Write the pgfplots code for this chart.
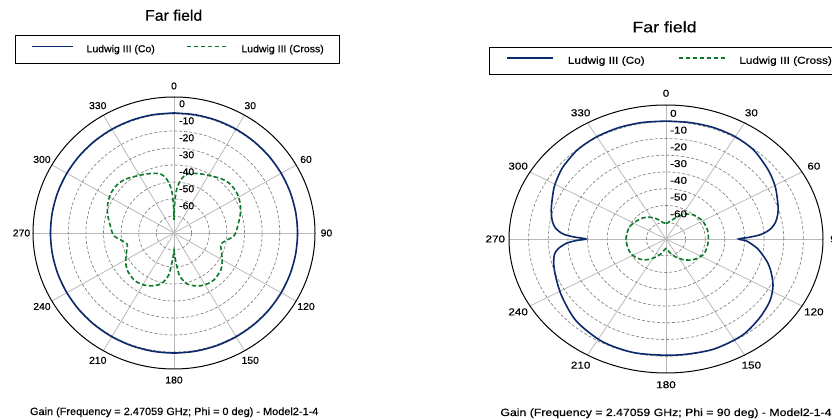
\documentclass[border=0pt]{standalone}
\usepackage{fontspec}
\setmainfont{Liberation Sans}
\newfontfamily\lf[FakeStretch=1.04,FakeBold=0.35]{Liberation Sans}
\newfontfamily\rf[FakeStretch=1.17,FakeBold=0.35]{Liberation Sans}
\usepackage{pgfplots}
\usepackage{pgfplotstable}
\pgfplotsset{compat=1.18}
\definecolor{co}{HTML}{0B2A6B}
\definecolor{cx}{HTML}{0A7A2A}
\definecolor{ringc}{gray}{0.5}
\definecolor{spokec}{gray}{0.72}

% Phi = 0 deg
\pgfplotstableread{
a g
0 -9.40
10 -9.42
20 -9.46
30 -9.53
40 -9.61
50 -9.69
60 -9.78
70 -9.84
80 -9.89
90 -9.90
100 -9.89
110 -9.84
120 -9.78
130 -9.69
140 -9.61
150 -9.53
160 -9.46
170 -9.42
180 -9.40
190 -9.42
200 -9.46
210 -9.53
220 -9.61
230 -9.69
240 -9.78
250 -9.84
260 -9.89
270 -9.90
280 -9.89
290 -9.84
300 -9.78
310 -9.69
320 -9.61
330 -9.53
340 -9.46
350 -9.42
360 -9.40
}\leftco

\pgfplotstableread{
a g
0 -72.4
1 -64
2.5 -57
4 -53
7.5 -48
12 -44.6
18 -43.1
25 -41.8
32 -40.4
40 -38.3
46 -37.2
52 -37
58 -37.4
65 -38.6
71 -40
77 -41.8
82 -43.3
88 -44.6
93 -46
97 -49
100 -51
104 -52.7
108 -52
113 -50.7
121 -48.1
129 -45.7
140 -44.3
147 -44.5
154 -45.5
160 -47
166 -49.1
170 -52
173.5 -55.7
176.7 -63.7
178.5 -67
180 -69.6
181.5 -67
183.3 -63.7
186.5 -55.7
190 -52
194 -49.1
200 -47
206 -45.5
213 -44.5
220 -44.3
231 -45.7
239 -48.1
247 -50.7
252 -52
256 -52.7
260 -51
263 -49
267 -46
272 -44.6
278 -43.3
283 -41.8
289 -40
295 -38.6
302 -37.4
308 -37
314 -37.2
320 -38.3
328 -40.4
335 -41.8
342 -43.1
348 -44.6
352.5 -48
356 -53
357.5 -57
359 -64
360 -72.4
}\leftcx

% Phi = 90 deg
\pgfplotstableread{
a g
0 -9.6
10 -9.4
20 -9.2
30 -9.5
40 -10.6
50 -13.2
56 -14.8
62 -16.6
71 -19.6
76 -21.4
80 -23.4
83 -25.8
85 -28.3
87 -32
88.6 -37.5
90 -43
91.5 -39
93.5 -36.8
97 -33
101 -29.8
105 -26.5
110 -23.1
117 -18.8
125 -15.4
135 -12.9
146 -10.6
159 -9.9
170 -10.4
180 -10.6
194 -10.2
208 -10.7
223 -13.0
237 -16.8
248 -19.4
256 -21
261 -22.5
264 -24.8
267 -29
268.8 -34
270 -39.2
271.5 -33
273 -28
275 -25
277 -23
280 -21.3
284 -19.8
289 -18.3
298 -15.3
304 -13.6
310 -12.0
320 -10.2
330 -9.5
340 -9.3
350 -9.4
360 -9.6
}\rightco

\pgfplotstableread{
a g
0 -70.6
6 -70.3
12 -68.8
18 -67.5
25 -65
35 -61.8
45 -59.8
60 -58.5
75 -58.2
90 -58.4
105 -58.5
117 -58.9
127 -60.5
136 -62.5
145 -65
154 -67.8
163 -70.5
171 -73
180 -74.4
189 -73
197 -70.5
206 -68
215 -65.2
224 -62.8
235 -61
250 -59.9
270 -59.6
290 -60
305 -61.5
317 -62.8
327 -64.5
336 -66.5
345 -68.6
352 -70.2
360 -70.6
}\rightcx

\pgfplotsset{
  farfield/.style={
    xmin=-80, xmax=80, ymin=-80, ymax=80,
    axis lines=none, clip=false, xtick=\empty, ytick=\empty,
    legend columns=2, legend cell align=left,
  },
}

\begin{document}
\begin{tikzpicture}
\useasboundingbox (0,0) rectangle (832pt,420pt);
\fill[white] (0,0) rectangle (832pt,420pt);
\clip (0,0) rectangle (832pt,420pt);

% ---------------- left panel ----------------
\begin{axis}[farfield,
  at={(174pt,187pt)}, anchor=origin,
  x=1.7625pt, y=1.7pt,
  legend style={at={(-0.0638,1.228)}, anchor=north west, draw=black, line width=0.9pt,
    font=\lf\fontsize{10.1}{12}\selectfont, inner xsep=15.5pt, inner ysep=9.5pt,
    nodes={inner sep=0pt},
    /tikz/every odd column/.append style={column sep=13pt},
    /tikz/every even column/.append style={column sep=31pt}},
  legend image code/.code={\draw[#1] (0pt,3pt) -- (41pt,3pt);},
]
\pgfplotsinvokeforeach{0,30,60,90,120,150}{
  \draw[spokec, line width=0.75pt] (axis cs:{-80*sin(#1)},{-80*cos(#1)}) -- (axis cs:{80*sin(#1)},{80*cos(#1)});
}
\pgfplotsinvokeforeach{10,20,30,40,50,60,70}{
  \draw[ringc, line width=0.65pt, dash pattern=on 3pt off 2pt] (axis cs:0,0) ellipse [x radius=#1, y radius=#1];
}
\draw[black, line width=1pt] (axis cs:0,0) ellipse [x radius=80, y radius=80];

\addplot[co, line width=1.6pt, smooth, tension=0.5, data cs=polar]
  table[x expr=90-\thisrow{a}, y expr=\thisrow{g}+80] {\leftco};
\addlegendentry{Ludwig III (Co)}
\addplot[cx, line width=1.6pt, dash pattern=on 4.5pt off 2.5pt, smooth, tension=0.5, data cs=polar]
  table[x expr=90-\thisrow{a}, y expr=\thisrow{g}+80] {\leftcx};
\addlegendentry{Ludwig III (Cross)}

\pgfplotsinvokeforeach{0,30,60,90,120,150,180,210,240,270,300,330}{
  \node[font=\lf\fontsize{10}{12}\selectfont, inner sep=0pt] at (axis cs:{86.5*sin(#1)},{86.5*cos(#1)}) {#1};
}
\node[anchor=west, inner sep=0pt, font=\lf\fontsize{10}{12}\selectfont] at (axis cs:2.8,76) {0};
\node[anchor=west, inner sep=0pt, font=\lf\fontsize{10}{12}\selectfont] at (axis cs:2.8,66) {-10};
\node[anchor=west, inner sep=0pt, font=\lf\fontsize{10}{12}\selectfont] at (axis cs:2.8,56) {-20};
\node[anchor=west, inner sep=0pt, font=\lf\fontsize{10}{12}\selectfont] at (axis cs:2.8,46) {-30};
\node[anchor=west, inner sep=0pt, font=\lf\fontsize{10}{12}\selectfont] at (axis cs:2.8,36) {-40};
\node[anchor=west, inner sep=0pt, font=\lf\fontsize{10}{12}\selectfont] at (axis cs:2.8,26) {-50};
\node[anchor=west, inner sep=0pt, font=\lf\fontsize{10}{12}\selectfont] at (axis cs:2.8,16) {-60};
\end{axis}

% ---------------- right panel ----------------
\begin{axis}[farfield,
  at={(666pt,181pt)}, anchor=origin,
  x=1.9625pt, y=1.675pt,
  legend style={at={(-0.0627,1.2164)}, anchor=north west, draw=black, line width=0.9pt,
    font=\rf\fontsize{10.1}{12}\selectfont, inner xsep=16.5pt, inner ysep=9pt,
    nodes={inner sep=0pt},
    /tikz/every odd column/.append style={column sep=14pt},
    /tikz/every even column/.append style={column sep=33pt}},
  legend image code/.code={\draw[#1] (0pt,3pt) -- (46pt,3pt);},
]
\pgfplotsinvokeforeach{0,30,60,90,120,150}{
  \draw[spokec, line width=0.75pt] (axis cs:{-80*sin(#1)},{-80*cos(#1)}) -- (axis cs:{80*sin(#1)},{80*cos(#1)});
}
\pgfplotsinvokeforeach{10,20,30,40,50,60,70}{
  \draw[ringc, line width=0.65pt, dash pattern=on 3pt off 2pt] (axis cs:0,0) ellipse [x radius=#1, y radius=#1];
}
\draw[black, line width=1pt] (axis cs:0,0) ellipse [x radius=80, y radius=80];

\addplot[co, line width=1.6pt, smooth, tension=0.5, data cs=polar]
  table[x expr=90-\thisrow{a}, y expr=\thisrow{g}+80] {\rightco};
\addlegendentry{Ludwig III (Co)}
\addplot[cx, line width=1.6pt, dash pattern=on 4.5pt off 2.5pt, smooth, tension=0.5, data cs=polar]
  table[x expr=90-\thisrow{a}, y expr=\thisrow{g}+80] {\rightcx};
\addlegendentry{Ludwig III (Cross)}

\pgfplotsinvokeforeach{0,30,60,90,120,150,180,210,240,270,300,330}{
  \node[font=\rf\fontsize{10}{12}\selectfont, inner sep=0pt] at (axis cs:{87*sin(#1)},{87*cos(#1)}) {#1};
}
\node[anchor=west, inner sep=0pt, font=\rf\fontsize{10}{12}\selectfont] at (axis cs:2,75) {0};
\node[anchor=west, inner sep=0pt, font=\rf\fontsize{10}{12}\selectfont] at (axis cs:2,65) {-10};
\node[anchor=west, inner sep=0pt, font=\rf\fontsize{10}{12}\selectfont] at (axis cs:2,55) {-20};
\node[anchor=west, inner sep=0pt, font=\rf\fontsize{10}{12}\selectfont] at (axis cs:2,45) {-30};
\node[anchor=west, inner sep=0pt, font=\rf\fontsize{10}{12}\selectfont] at (axis cs:2,35) {-40};
\node[anchor=west, inner sep=0pt, font=\rf\fontsize{10}{12}\selectfont] at (axis cs:2,25) {-50};
\node[anchor=west, inner sep=0pt, font=\rf\fontsize{10}{12}\selectfont] at (axis cs:2,15) {-60};
\end{axis}

% titles and captions
\node[anchor=base, font=\lf\fontsize{15.2}{18}\selectfont] at (173.7pt,399.3pt) {Far field};
\node[anchor=base, font=\rf\fontsize{15.2}{18}\selectfont] at (664.5pt,387.7pt) {Far field};
\node[anchor=base, font=\lf\fontsize{10.5}{12}\selectfont] at (174.2pt,5pt) {Gain (Frequency = 2.47059 GHz; Phi = 0 deg) - Model2-1-4};
\node[anchor=base, font=\rf\fontsize{10.5}{12}\selectfont] at (666pt,4pt) {Gain (Frequency = 2.47059 GHz; Phi = 90 deg) - Model2-1-4};
\end{tikzpicture}
\end{document}
